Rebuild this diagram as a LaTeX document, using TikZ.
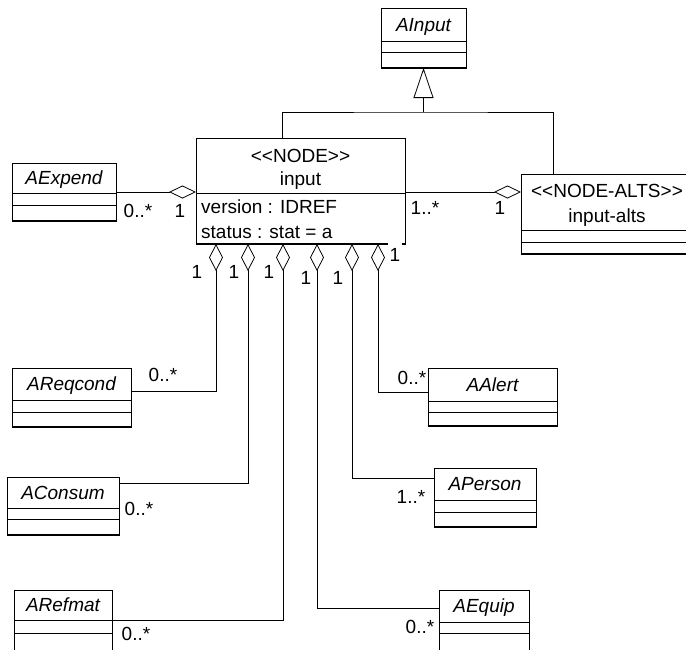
\documentclass[tikz,border=0pt]{standalone}
\usepackage{fontspec}
\setmainfont{Liberation Sans}
\usetikzlibrary{arrows.meta}

% guillemets written as two separate characters
\newcommand\stereotype[1]{<\kern0pt<#1>\kern0pt>}
\newcommand\diagramfont{\fontsize{19}{23}\selectfont}

\tikzset{
  classbox/.style={draw, line width=0.9pt, outer sep=0pt, inner sep=0pt},
  divider/.style={line width=0.9pt},
  baseedge/.style={line width=1.7pt},
  classname/.style={font=\diagramfont\itshape, anchor=base, inner sep=0pt},
  stereo/.style={anchor=base, inner sep=0pt},
  attr/.style={anchor=base west, inner sep=0pt},
  mult/.style={inner sep=0pt},
  conn/.style={line width=0.8pt},
  aggr/.style={conn, {Diamond[open,length=27pt,width=14pt]}-},
  aggrend/.style={conn, -{Diamond[open,length=27pt,width=13pt]}},
  gen/.style={conn, -{Triangle[open,length=30pt,width=20pt]}},
}

% class box: name, left, top, width, first divider, second divider, height, title
\newcommand\umlclass[8]{%
  \node[classbox, minimum width=#4pt, minimum height=#7pt, anchor=north west] (#1) at (#2,#3) {};
  \draw[divider] (#2,{#3+#5}) -- ({#2+#4},{#3+#5});
  \draw[divider] (#2,{#3+#6}) -- ({#2+#4},{#3+#6});
  \draw[baseedge] (#1.south west) -- (#1.south east);
  \node[classname] at ({#2+#4/2},{#3+#5/2+6.8}) {#8};
}

\begin{document}
\begin{tikzpicture}[x=1pt, y=-1pt, font=\diagramfont]
  \useasboundingbox (0,0) rectangle (686,649);
  \fill[white] (0,0) rectangle (686,649);
  \clip (0,0) rectangle (686,649);

  % classes
  \umlclass{ainput}{381}{8}{85}{33}{44}{60}{AInput}
  \umlclass{aexpend}{12}{163}{104}{30}{42}{58}{AExpend}
  \umlclass{areqcond}{12}{368}{119}{32}{44}{59}{AReqcond}
  \umlclass{aconsum}{7}{477}{112}{31}{42}{58}{AConsum}
  \umlclass{arefmat}{14}{590}{98}{30}{43}{70}{ARefmat}
  \umlclass{aalert}{428}{368}{129}{33}{44}{58}{AAlert}
  \umlclass{aperson}{434}{468}{102}{32}{44}{59}{APerson}
  \umlclass{aequip}{439}{590}{90}{32}{43}{70}{AEquip}

  % the input node class
  \node[classbox, minimum width=209pt, minimum height=106pt, anchor=north west] (input) at (196,138) {};
  \draw[divider] (196,193) -- (405,193);
  \draw[baseedge] (input.south west) -- (input.south east);
  \node[stereo] at (300.5,162) {\stereotype{NODE}};
  \node[stereo] at (300.5,185) {input};
  \node[attr] at (201,213) {version : IDREF};
  \node[attr] at (201,238) {status : stat = a};

  % the alternatives class
  \node[classbox, minimum width=170pt, minimum height=80pt, anchor=north west] (alts) at (521,174) {};
  \draw[divider] (521,230) -- (691,230);
  \draw[divider] (521,242) -- (691,242);
  \draw[baseedge] (alts.south west) -- (alts.south east);
  \node[stereo] at (607,197) {\stereotype{NODE-ALTS}};
  \node[stereo] at (607,222) {input-alts};

  % generalization
  \coordinate (genjoin) at (ainput.south |- 0,112);
  \draw[conn] (input.north -| 282,0) |- (genjoin) -| (alts.north -| 553,0);
  \draw[gen] (genjoin) -- (ainput.south);

  % aggregations
  \draw[aggrend] (aexpend.east) -- (aexpend.east -| input.west);
  \draw[aggrend] (input.east |- 0,192) -- (alts.west |- 0,192);
  \draw[aggr] (input.south -| 216,0) |- ([yshift=-23pt]areqcond.north east);
  \draw[aggr] (input.south -| 248,0) |- ([yshift=-6pt]aconsum.north east);
  \draw[aggr] (input.south -| 283,0) |- ([yshift=-30pt]arefmat.north east);
  \draw[aggr] (input.south -| 317,0) |- ([yshift=-18pt]aequip.north west);
  \draw[aggr] (input.south -| 352,0) |- ([yshift=-10pt]aperson.north west);
  \draw[aggr] (input.south -| 378,0) |- ([yshift=-24pt]aalert.north west);

  % multiplicities
  \node[mult] at (138,211) {0..*};
  \node[mult] at (180,211) {1};
  \node[mult] at (425,208) {1..*};
  \node[mult] at (500,208) {1};
  \node[mult] at (197,272) {1};
  \node[mult] at (234,272) {1};
  \node[mult] at (269,272) {1};
  \node[mult] at (306,278) {1};
  \node[mult] at (338,278) {1};
  \node[mult, fill=white, inner xsep=2pt, inner ysep=6pt] at (395,255) {1};
  \node[mult] at (163,375) {0..*};
  \node[mult] at (139,509) {0..*};
  \node[mult] at (136,634) {0..*};
  \node[mult] at (412,378) {0..*};
  \node[mult] at (411,497) {1..*};
  \node[mult] at (420,627) {0..*};
\end{tikzpicture}
\end{document}
